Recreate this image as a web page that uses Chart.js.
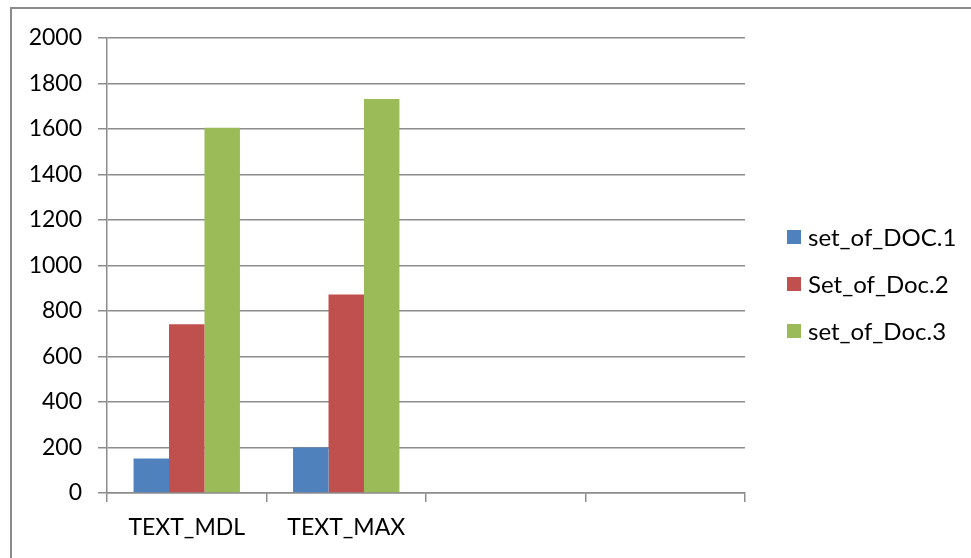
<!DOCTYPE html>
<html>
<head>
<meta charset="utf-8">
<script src="https://cdn.jsdelivr.net/npm/chart.js@4/dist/chart.umd.min.js"></script>
<style>
  html, body { margin: 0; padding: 0; background: #fff; }
  canvas { display: block; }
</style>
</head>
<body>
<canvas id="chart" width="971" height="558"></canvas>
<script>
const categories = ['TEXT_MDL', 'TEXT_MAX', '', '']
const seriesNames = ['set_of_DOC.1', 'Set_of_Doc.2', 'set_of_Doc.3']
const doc1 = [152, 200, null, null]
const doc2 = [742, 872, null, null]
const doc3 = [1605, 1732, null, null]
const yTicks = [0, 200, 400, 600, 800, 1000, 1200, 1400, 1600, 1800, 2000]

const colors = ['#4F81BD', '#C0504D', '#9BBB59']
const gridColor = '#8c8c8c'
const fontFamily = 'Lato, "Noto Sans", sans-serif'

// outer frame + legend drawn on the canvas
const frameAndLegend = {
    id: 'frameAndLegend',
    afterDraw(chart) {
        const ctx = chart.ctx
        ctx.save()
        ctx.strokeStyle = '#8a8a8a'
        ctx.lineWidth = 2
        ctx.beginPath()
        ctx.moveTo(11, 558)
        ctx.lineTo(11, 8)
        ctx.lineTo(971, 8)
        ctx.stroke()

        ctx.font = '24px ' + fontFamily
        ctx.textBaseline = 'middle'
        chart.data.datasets.forEach((ds, i) => {
            const y = 237 + i * 47
            ctx.fillStyle = ds.backgroundColor
            ctx.fillRect(787, y - 7, 14, 14)
            ctx.fillStyle = '#000'
            ctx.fillText(ds.label, 808, y + 1)
        })
        ctx.restore()
    }
}

new Chart(document.getElementById('chart'), {
    type: 'bar',
    data: {
        labels: categories,
        datasets: [doc1, doc2, doc3].map((d, i) => ({
            label: seriesNames[i],
            data: d,
            backgroundColor: colors[i],
            categoryPercentage: 0.667,
            barPercentage: 1
        }))
    },
    options: {
        responsive: false,
        animation: false,
        devicePixelRatio: 1,
        layout: { padding: { top: 38, right: 226, bottom: 0, left: 0 } },
        plugins: {
            legend: { display: false },
            tooltip: { enabled: false }
        },
        scales: {
            x: {
                offset: true,
                grid: {
                    offset: true,
                    drawOnChartArea: false,
                    drawTicks: true,
                    tickLength: 9,
                    color: gridColor,
                    lineWidth: 1.5
                },
                border: { color: gridColor, width: 1.5 },
                ticks: {
                    color: '#000',
                    padding: 12,
                    font: { family: fontFamily, size: 23 }
                },
                afterFit(scale) { scale.height = 65 }
            },
            y: {
                min: 0,
                max: 2000,
                afterBuildTicks(scale) { scale.ticks = yTicks.map(v => ({ value: v })) },
                grid: {
                    color: gridColor,
                    lineWidth: 1.5,
                    tickLength: 9
                },
                border: { color: gridColor, width: 1.5 },
                ticks: {
                    color: '#000',
                    padding: 16,
                    callback: v => String(v),
                    font: { family: fontFamily, size: 23 }
                },
                afterFit(scale) { scale.width = 107 }
            }
        }
    },
    plugins: [frameAndLegend]
})
</script>
</body>
</html>
